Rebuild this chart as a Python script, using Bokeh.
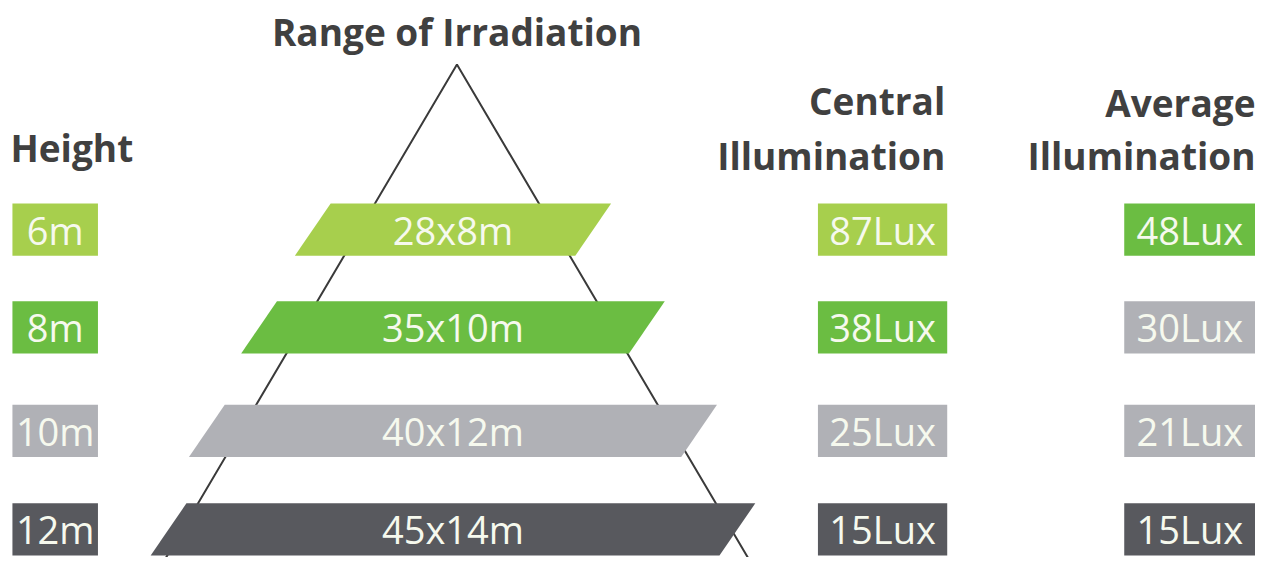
from bokeh.plotting import figure
from bokeh.models import Range1d
from bokeh.core.properties import value
from bokeh.embed import file_html
from bokeh.resources import INLINE

# ---- data ----
heights = ["6m", "8m", "10m", "12m"]
irradiation = ["28x8m", "35x10m", "40x12m", "45x14m"]
central_lux = [87, 38, 25, 15]
average_lux = [48, 30, 21, 15]

# ---- styles ----
LG, G, GR, DK = "#a7cf4d", "#6bbd42", "#b0b1b6", "#58595e"
height_colors = [LG, G, GR, DK]
bar_colors = [LG, G, GR, DK]
central_colors = [LG, G, GR, DK]
average_colors = [G, GR, GR, DK]
TXT = "#404040"
BOXTXT = "#f6f9ee"
FONT = value("Open Sans")

# ---- layout (pixel space of the picture) ----
row_top = [206, 305, 410, 510]
row_h = 53
bar_center = 455
bar_width = [282, 390, 495, 572]
slant = 36
apex = (459, 65)
spread = 0.585

p = figure(width=1255, height=557, x_range=Range1d(0, 1262), y_range=Range1d(565, 0),
           output_backend="svg", toolbar_location=None, min_border=0)
p.axis.visible = False
p.grid.visible = False
p.outline_line_color = None
p.background_fill_color = "white"
p.border_fill_color = "white"

n = len(heights)
mids = [t + row_h / 2 for t in row_top]

# triangle outline
yb = 575
p.line([apex[0] - spread * (yb - apex[1]), apex[0], apex[0] + spread * (yb - apex[1])],
       [yb, apex[1], yb], line_color="#3a3a3a", line_width=2)

# parallelogram bars
xs, ys = [], []
for i in range(n):
    t, b = row_top[i], row_top[i] + row_h
    w = bar_width[i]
    xs.append([bar_center - w / 2 + slant / 2, bar_center + w / 2 + slant / 2,
               bar_center + w / 2 - slant / 2, bar_center - w / 2 - slant / 2])
    ys.append([t, t, b, b])
p.patches(xs, ys, fill_color=bar_colors, line_color=None)

# boxes
def boxes(left, right, colors):
    p.quad(left=[left] * n, right=[right] * n, top=row_top,
           bottom=[t + row_h for t in row_top], fill_color=colors, line_color=None)

boxes(12, 98, height_colors)
boxes(822, 952, central_colors)
boxes(1130, 1262, average_colors)

def labels(x, texts, size="38px"):
    p.text(x=[x] * n, y=mids, text=texts, text_align="center", text_baseline="middle",
           text_color=BOXTXT, text_font=FONT, text_font_size=size)

labels(55, heights)
labels(bar_center, irradiation)
labels(887, [f"{v}Lux" for v in central_lux])
labels(1196, [f"{v}Lux" for v in average_lux])

# headers
def header(x, y, t, align):
    p.text(x=[x], y=[y], text=[t], text_align=align, text_baseline="alphabetic",
           text_color=TXT, text_font=FONT, text_font_size="37px", text_font_style="bold")

header(459, 31, "Range of Irradiation", "center")
header(10, 149, "Height", "left")
header(950, 101, "Central", "right")
header(950, 157, "Illumination", "right")
header(1262, 103, "Average", "right")
header(1262, 157, "Illumination", "right")

open("out.html", "w").write(file_html(p, INLINE))
